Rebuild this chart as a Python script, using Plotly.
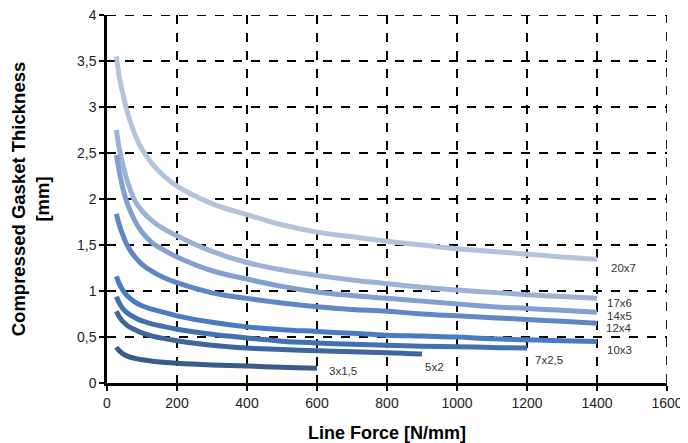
import plotly.graph_objects as go

# Data
names = ["20x7", "17x6", "14x5", "12x4", "10x3", "7x2,5", "5x2", "3x1,5"]

# Line force sample positions [N/mm]; each series uses the first len(values) of them
x_force = [27, 35, 45, 60, 80, 100, 130, 160, 200, 300, 400, 500, 600, 700,
           800, 900, 1000, 1100, 1200, 1300, 1400]

y_20x7 = [3.55, 3.33, 3.15, 2.92, 2.70, 2.54, 2.38, 2.26, 2.14, 1.95, 1.83, 1.72,
          1.64, 1.59, 1.54, 1.50, 1.46, 1.43, 1.40, 1.37, 1.345]
y_17x6 = [2.75, 2.55, 2.38, 2.17, 1.98, 1.87, 1.76, 1.68, 1.60, 1.43, 1.31, 1.23,
          1.17, 1.12, 1.08, 1.04, 1.01, 0.985, 0.96, 0.94, 0.92]
y_14x5 = [2.48, 2.30, 2.12, 1.93, 1.76, 1.64, 1.52, 1.45, 1.37, 1.22, 1.13, 1.05,
          0.99, 0.95, 0.92, 0.89, 0.86, 0.83, 0.81, 0.79, 0.77]
y_12x4 = [1.84, 1.72, 1.61, 1.48, 1.37, 1.29, 1.21, 1.15, 1.09, 0.98, 0.92, 0.87,
          0.83, 0.80, 0.78, 0.75, 0.73, 0.71, 0.69, 0.67, 0.65]
y_10x3 = [1.16, 1.08, 1.01, 0.94, 0.88, 0.84, 0.80, 0.77, 0.73, 0.66, 0.61, 0.58,
          0.56, 0.54, 0.52, 0.51, 0.50, 0.48, 0.47, 0.46, 0.45]
y_7x25 = [0.94, 0.87, 0.81, 0.755, 0.71, 0.675, 0.64, 0.615, 0.585, 0.53, 0.49, 0.455,
          0.435, 0.42, 0.41, 0.40, 0.395, 0.385, 0.38]
y_5x2 = [0.78, 0.72, 0.67, 0.62, 0.58, 0.545, 0.51, 0.485, 0.46, 0.41, 0.38, 0.365,
         0.35, 0.34, 0.33, 0.315]
y_3x15 = [0.39, 0.35, 0.32, 0.29, 0.268, 0.252, 0.237, 0.226, 0.215, 0.197, 0.185,
          0.17, 0.16]

ys = [y_20x7, y_17x6, y_14x5, y_12x4, y_10x3, y_7x25, y_5x2, y_3x15]

# label positions (data coords)
label_x = [1475, 1463, 1463, 1463, 1463, 1262, 935, 675]
label_y = [1.25, 0.87, 0.73, 0.60, 0.36, 0.25, 0.17, 0.135]

colors = ["#b3c3de", "#9db1d6", "#829fcf", "#5f87c6", "#4a7bc0", "#4371ad",
          "#3e659c", "#3a5a88"]

x_ticks = [0, 200, 400, 600, 800, 1000, 1200, 1400, 1600]
y_ticks = [0, 0.5, 1, 1.5, 2, 2.5, 3, 3.5, 4]
x_max = 1600
y_max = 4

fig = go.Figure()
for n, y, c in zip(names, ys, colors):
    fig.add_trace(go.Scatter(x=x_force[:len(y)], y=y, mode="lines", name=n,
                             line=dict(color=c, width=5, shape="spline", smoothing=1.2),
                             hoverinfo="skip"))

for n, lx, ly in zip(names, label_x, label_y):
    fig.add_annotation(x=lx, y=ly, text=n, showarrow=False,
                       font=dict(family="Liberation Sans, Arial", size=11.5, color="#333333"))

# axis titles
fig.add_annotation(xref="paper", yref="paper", x=0.5, y=-0.136, text="<b>Line Force [N/mm]</b>",
                   showarrow=False, xanchor="center", yanchor="middle",
                   font=dict(family="Liberation Sans, Arial", size=18, color="black"))
fig.add_annotation(xref="paper", yref="paper", x=-0.137, y=0.5,
                   text="<b>Compressed Gasket Thickness<br>[mm]</b>", textangle=-90,
                   showarrow=False, xanchor="center", yanchor="middle",
                   font=dict(family="Liberation Sans, Arial", size=18.5, color="black"))

# dashed border lines at the top and right range ends (grid lines there)
border = dict(color="black", width=1.8, dash="dash")
fig.add_shape(type="line", x0=0, x1=x_max, y0=y_max, y1=y_max, layer="below", line=border)
fig.add_shape(type="line", x0=x_max, x1=x_max, y0=0, y1=y_max, layer="below", line=border)

grid = dict(showgrid=True, gridcolor="black", gridwidth=1.8, griddash="dash")

# page body has an 8px margin, so the figure is sized/margined to compensate
fig.update_layout(
    width=680, height=435,
    margin=dict(l=99, r=21, t=7, b=60),
    paper_bgcolor="white", plot_bgcolor="white",
    showlegend=False,
    separators=", ",
    font=dict(family="Liberation Sans, Arial", color="#222222"),
    xaxis=dict(range=[0, x_max], tickvals=x_ticks, ticks="outside", ticklen=5,
               tickwidth=2, tickcolor="black", showline=True, linecolor="black",
               linewidth=2.5, zeroline=False, tickfont=dict(size=14),
               ticklabeloverflow="allow", automargin=False, **grid),
    yaxis=dict(range=[0, y_max], tickvals=y_ticks, ticks="outside", ticklen=5,
               tickwidth=2, tickcolor="black", showline=True, linecolor="black",
               linewidth=2.5, zeroline=False, tickfont=dict(size=14),
               ticklabeloverflow="allow", automargin=False, **grid),
)

fig.write_html("out.html")
